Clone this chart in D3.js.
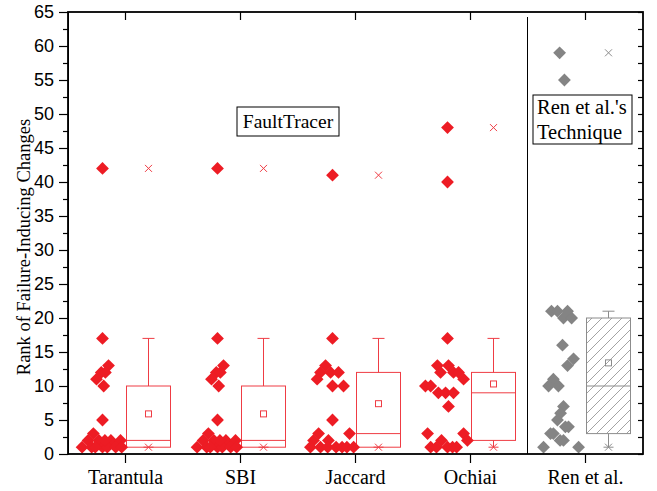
<!DOCTYPE html>
<html>
<head>
<script src="https://d3js.org/d3.v7.min.js"></script>
<style>
  body { margin: 0; background: #fff; }
</style>
</head>
<body>
<script>
var w = 657, h = 491;

// categories on the x axis
var categories = ["Tarantula", "SBI", "Jaccard", "Ochiai", "Ren et al."];

// ranks of each fault (one array per technique) and horizontal jitter in [-1, 1]
var tarantulaRanks = [42, 17, 13, 12, 12, 11, 10, 5, 3, 2, 2, 1, 1, 2, 1, 1, 2, 1, 1, 2, 1];
var tarantulaJitter = [0, 0, .25, -.05, .12, -.25, .05, 0, -.38, -.6, -.15, -.85, -.45, .35, 0, .2, .75, .55, .8, .1, -.3];
var sbiRanks = [42, 17, 13, 12, 12, 11, 10, 5, 3, 2, 2, 1, 1, 2, 1, 1, 2, 1, 1, 2, 1];
var sbiJitter = [0, 0, .25, -.05, .12, -.25, .05, 0, -.38, -.6, -.15, -.85, -.45, .35, 0, .2, .75, .55, .8, .1, -.3];
var jaccardRanks = [41, 17, 13, 12, 11, 12, 12, 10, 10, 5, 3, 3, 2, 2, 1, 1, 1, 1, 1, 1, 1];
var jaccardJitter = [0, 0, -.29, -.5, -.64, -.08, .25, 0, .46, 0, -.58, .71, -.79, -.17, -.92, -.5, -.2, .15, .4, .6, .88];
var ochiaiRanks = [48, 40, 17, 13, 12, 13, 12, 12, 11, 10, 10, 9, 9, 9, 7, 3, 3, 2, 2, 1, 1, 1, 1, 1];
var ochiaiJitter = [0, 0, 0, -.42, -.29, .04, .25, .46, .67, -.92, -.7, -.38, -.08, .25, .04, -.83, .67, .83, -.25, -.7, -.46, 0, .21, .38];
var renRanks = [59, 55, 21, 21, 20, 21, 20, 16, 14, 13, 11, 10, 10, 7, 6, 5, 4, 4, 3, 3, 2, 2, 1, 1];
var renJitter = [-.12, .08, -.46, -.21, .04, .21, .38, 0, .46, .21, -.38, -.58, -.17, .04, -.08, -.21, .25, .12, -.38, -.5, -.1, .04, -.79, .67];

// box statistics
var q1 = [1, 1, 1, 2, 3];
var median = [2, 2, 3, 9, 10];
var q3 = [10, 10, 12, 12, 20];
var whiskerLow = [1, 1, 1, 1, 1];
var whiskerHigh = [17, 17, 17, 17, 21];
var mean = [5.9, 5.9, 7.4, 10.3, 13.4];
var minMark = [1, 1, 1, 1, 1];
var maxMark = [42, 42, 41, 48, 59];

var yTicks = d3.range(0, 66, 5);

var ranks = [tarantulaRanks, sbiRanks, jaccardRanks, ochiaiRanks, renRanks];
var jitters = [tarantulaJitter, sbiJitter, jaccardJitter, ochiaiJitter, renJitter];

var red = "#ed1c24", redBox = "#ef3c44", grey = "#848484", greyBox = "#8c8c8c";

var x = d3.scaleBand().domain(categories).range([68, 643]);
var y = d3.scaleLinear().domain([0, 65]).range([454, 12]);
var jit = d3.scaleLinear().domain([-1, 1]).range([-24, 24]);
var center = function (c) { return x(c) + x.bandwidth() / 2; };
var ptsX = function (c) { return center(c) - 23; };
var boxX = function (c) { return center(c) + 23; };
var boxW = 44;

var svg = d3.select("body").append("svg").attr("width", w).attr("height", h);

var defs = svg.append("defs");
var pat = defs.append("pattern").attr("id", "hatch").attr("patternUnits", "userSpaceOnUse")
    .attr("width", 10).attr("height", 10);
pat.append("path").attr("d", "M-2,2L2,-2M0,10L10,0M8,12L12,8")
    .attr("stroke", "#999").attr("stroke-width", 0.9);

// boxes
categories.forEach(function (c, i) {
    var col = i === 4 ? greyBox : redBox;
    var g = svg.append("g").attr("fill", "none").attr("stroke", col).attr("stroke-width", 1);
    var cx = boxX(c);
    g.append("line").attr("x1", cx).attr("x2", cx).attr("y1", y(q3[i])).attr("y2", y(whiskerHigh[i]));
    g.append("line").attr("x1", cx).attr("x2", cx).attr("y1", y(q1[i])).attr("y2", y(whiskerLow[i]));
    g.append("line").attr("x1", cx - 6).attr("x2", cx + 6).attr("y1", y(whiskerHigh[i])).attr("y2", y(whiskerHigh[i]));
    g.append("line").attr("x1", cx - 5).attr("x2", cx + 5).attr("y1", y(whiskerLow[i])).attr("y2", y(whiskerLow[i]));
    g.append("rect").attr("x", cx - boxW / 2).attr("y", y(q3[i]))
        .attr("width", boxW).attr("height", y(q1[i]) - y(q3[i]))
        .attr("fill", i === 4 ? "url(#hatch)" : "none");
    g.append("line").attr("x1", cx - boxW / 2).attr("x2", cx + boxW / 2).attr("y1", y(median[i])).attr("y2", y(median[i]));
    g.append("rect").attr("x", cx - 3).attr("y", y(mean[i]) - 3).attr("width", 6).attr("height", 6);
    [minMark[i], maxMark[i]].forEach(function (v) {
        g.append("path").attr("d", "M-3.5,-3.5L3.5,3.5M-3.5,3.5L3.5,-3.5")
            .attr("transform", "translate(" + cx + "," + y(v) + ")");
    });
});

// points
var diamond = d3.symbol().type(d3.symbolSquare).size(82);
categories.forEach(function (c, i) {
    svg.append("g").selectAll("path").data(ranks[i]).join("path")
        .attr("d", diamond)
        .attr("fill", i === 4 ? grey : red)
        .attr("transform", function (d, j) {
            return "translate(" + (ptsX(c) + jit(jitters[i][j])) + "," + y(d) + ") rotate(45)";
        });
});

// axes
var serif = "'Liberation Serif', 'Times New Roman', serif";
var sans = "'Liberation Sans', Arial, sans-serif";

var leftAx = svg.append("g").attr("transform", "translate(68,0)")
    .call(d3.axisLeft(y).tickValues(yTicks).tickSize(9).tickPadding(5));
svg.append("g").attr("transform", "translate(68,0)")
    .call(d3.axisLeft(y).tickValues(d3.range(2.5, 65, 5)).tickSize(5).tickFormat(""))
    .select(".domain").remove();
leftAx.selectAll("text").attr("font-family", sans).attr("font-size", 18).attr("fill", "#000");

var rightAx = svg.append("g").attr("transform", "translate(643,0)")
    .call(d3.axisLeft(y).tickValues(d3.range(0, 65.1, 2.5)).tickSize(5).tickFormat(""));
rightAx.select(".domain").remove();

var topAx = svg.append("g").attr("transform", "translate(0,12)")
    .call(d3.axisBottom(x).tickSize(8).tickFormat(""));
topAx.select(".domain").remove();

var bottomAx = svg.append("g").attr("transform", "translate(0,454)")
    .call(d3.axisBottom(x).tickSize(9).tickPadding(7));
bottomAx.select(".domain").remove();
bottomAx.selectAll("text").attr("font-family", serif).attr("font-size", 20).attr("fill", "#000");

svg.selectAll(".tick line").attr("stroke", "#000").attr("stroke-width", 1.2);

// frame
svg.append("rect").attr("x", 68).attr("y", 12).attr("width", 575).attr("height", 442)
    .attr("fill", "none").attr("stroke", "#000").attr("stroke-width", 1.8);

// divider
var divX = x("Ren et al.") - 0.5;
svg.append("line").attr("x1", divX).attr("x2", divX).attr("y1", 17).attr("y2", 454)
    .attr("stroke", "#000").attr("stroke-width", 1);

// y title
svg.append("text").attr("transform", "translate(30,247) rotate(-90)")
    .attr("text-anchor", "middle").attr("font-family", serif).attr("font-size", 18.5)
    .text("Rank of Failure-Inducing Changes");

// group labels
svg.append("rect").attr("x", 237).attr("y", 107).attr("width", 102).attr("height", 29)
    .attr("fill", "#fff").attr("stroke", "#000").attr("stroke-width", 1);
svg.append("text").attr("x", 288).attr("y", 128).attr("text-anchor", "middle")
    .attr("font-family", serif).attr("font-size", 19.5).text("FaultTracer");

svg.append("rect").attr("x", 533).attr("y", 95).attr("width", 99).attr("height", 49)
    .attr("fill", "#fff").attr("stroke", "#000").attr("stroke-width", 1);
svg.append("text").attr("x", 537).attr("y", 114)
    .attr("font-family", serif).attr("font-size", 20.5).text("Ren et al.'s");
svg.append("text").attr("x", 537).attr("y", 139)
    .attr("font-family", serif).attr("font-size", 20.5).text("Technique");
</script>
</body>
</html>
